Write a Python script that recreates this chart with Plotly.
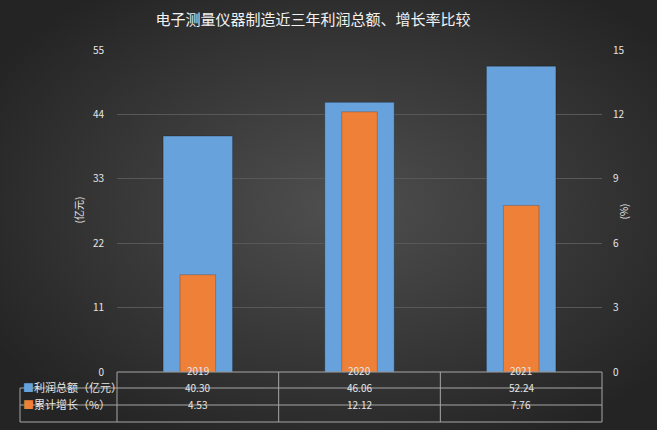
"""Profit and growth comparison chart with an Excel-style data table underneath."""

import base64
import plotly.graph_objects as go

years = ["2019", "2020", "2021"]
profit = [40.30, 46.06, 52.24]      # 利润总额（亿元）
growth = [4.53, 12.12, 7.76]        # 累计增长（%）

profit_name = "利润总额（亿元）"
growth_name = "累计增长（%）"
title_text = "电子测量仪器制造近三年利润总额、增长率比较"

W, H = 657, 430
L, R, T, B = 117, 602, 50, 372     # plot area in pixels
PW, PH = R - L, B - T

BLUE = "#67a2dd"
ORANGE = "#ee8038"
TEXT = "#e6e6e6"
LINE = "#a6a6a6"
FONT = "Noto Sans CJK SC"


def px_x(px):
    return (px - L) / PW


def px_y(py):
    return (B - py) / PH


# dark radial background like the Excel theme
svg = (
    f'<svg xmlns="http://www.w3.org/2000/svg" width="{W}" height="{H}">'
    '<defs><radialGradient id="g" cx="52%" cy="48%" r="62%">'
    '<stop offset="0%" stop-color="#4f4f4f"/>'
    '<stop offset="100%" stop-color="#242424"/>'
    '</radialGradient></defs>'
    f'<rect width="{W}" height="{H}" fill="url(#g)"/></svg>'
)
bg_uri = "data:image/svg+xml;base64," + base64.b64encode(svg.encode()).decode()

fig = go.Figure()
fig.add_trace(go.Bar(
    x=years, y=profit, name=profit_name, yaxis="y",
    marker=dict(color=BLUE, line=dict(color="rgba(0,0,0,0.25)", width=1)),
    width=0.43, offset=-0.215,
))
fig.add_trace(go.Bar(
    x=years, y=growth, name=growth_name, yaxis="y2",
    marker=dict(color=ORANGE, line=dict(color="rgba(0,0,0,0.2)", width=1)),
    width=0.22, offset=-0.11,
))

# data table lines
ys = [px_y(372), px_y(388), px_y(405), px_y(422)]
x_left = px_x(20)
shapes = [dict(type="line", xref="paper", yref="paper", x0=0, x1=1,
               y0=ys[0], y1=ys[0])]
for y in ys[1:]:
    shapes.append(dict(type="line", xref="paper", yref="paper",
                       x0=x_left, x1=1, y0=y, y1=y))
for i in range(len(years) + 1):
    xv = i / len(years)
    shapes.append(dict(type="line", xref="paper", yref="paper",
                       x0=xv, x1=xv, y0=ys[0], y1=ys[3]))
shapes.append(dict(type="line", xref="paper", yref="paper",
                   x0=x_left, x1=x_left, y0=ys[1], y1=ys[3]))
for s in shapes:
    s["line"] = dict(color=LINE, width=1)

annotations = []
row_mid = [(ys[0] + ys[1]) / 2, (ys[1] + ys[2]) / 2, (ys[2] + ys[3]) / 2]
for i, yr in enumerate(years):
    for row, txt in enumerate([yr, f"{profit[i]:.2f}", f"{growth[i]:.2f}"]):
        annotations.append(dict(x=i, xref="x", y=row_mid[row], yref="paper",
                                text=txt, showarrow=False))
annotations.append(dict(
    x=x_left + 0.002, xref="paper", y=row_mid[1], yref="paper", xanchor="left",
    text=f"<span style='color:{BLUE}'>■</span>{profit_name}", showarrow=False,
    font=dict(size=11)))
annotations.append(dict(
    x=x_left + 0.002, xref="paper", y=row_mid[2], yref="paper", xanchor="left",
    text=f"<span style='color:{ORANGE}'>■</span>{growth_name}", showarrow=False,
    font=dict(size=11)))
# axis titles
annotations.append(dict(x=px_x(68), xref="paper", y=px_y(210), yref="paper",
                        text="(亿元)", textangle=-90, showarrow=False))
annotations.append(dict(x=px_x(633), xref="paper", y=px_y(212), yref="paper",
                        text="(%)", textangle=-90, showarrow=False))

fig.update_layout(
    width=W, height=H,
    margin=dict(l=L, r=W - R, t=T, b=H - B),
    paper_bgcolor="#2a2a2a",
    plot_bgcolor="rgba(0,0,0,0)",
    font=dict(family=FONT, size=10, color=TEXT),
    title=dict(text=title_text, x=313 / W, xanchor="center", y=1 - 20 / H,
               yanchor="middle", font=dict(size=15, color="#f2f2f2")),
    showlegend=False,
    barmode="overlay",
    xaxis=dict(type="category", showticklabels=False, showgrid=False,
               zeroline=False, showline=False, range=[-0.5, 2.5]),
    yaxis=dict(range=[0, 55], dtick=11, showgrid=True, gridcolor="#585858",
               gridwidth=1, zeroline=False, showline=False,
               ticklabelstandoff=12, tickfont=dict(color=TEXT)),
    yaxis2=dict(range=[0, 15], dtick=3, overlaying="y", side="right",
                showgrid=False, zeroline=False, showline=False,
                ticklabelstandoff=10, tickfont=dict(color=TEXT)),
    shapes=shapes,
    annotations=annotations,
    images=[dict(source=bg_uri, xref="paper", yref="paper",
                 x=px_x(0), y=px_y(0), sizex=W / PW, sizey=H / PH,
                 xanchor="left", yanchor="top", sizing="stretch",
                 layer="below")],
)

# drop the default 8px body margin so the chart fills the window
fig.write_html("out.html", config={"displayModeBar": False},
               post_script="document.body.style.margin='0';")
